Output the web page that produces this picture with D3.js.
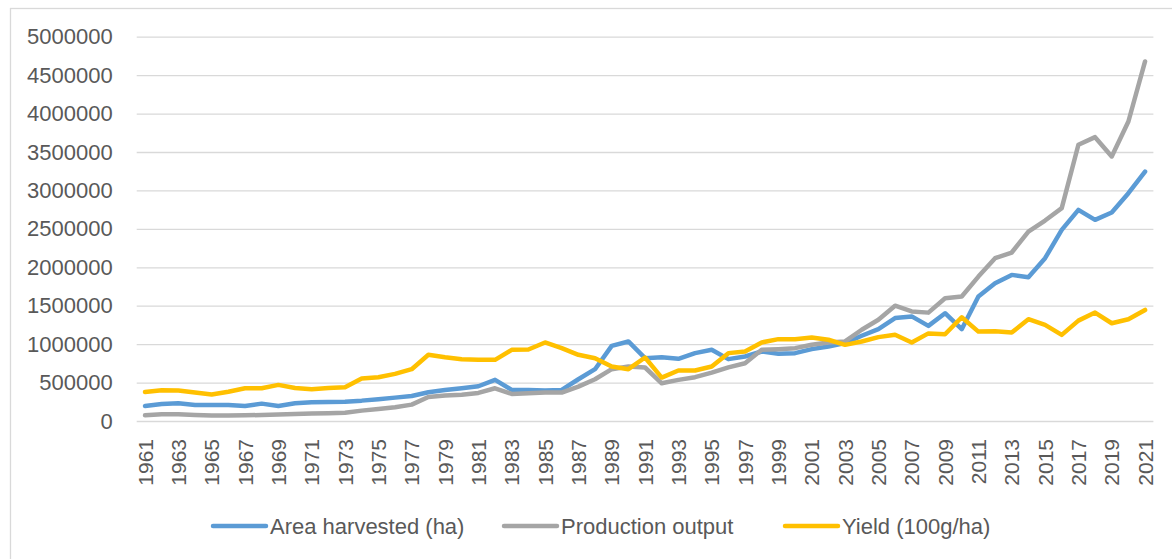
<!DOCTYPE html>
<html>
<head>
<meta charset="utf-8">
<script src="https://cdn.jsdelivr.net/npm/d3@7"></script>
<style>
  body { margin: 0; background: #fff; }
  text { font-family: "Liberation Sans", Arial, sans-serif; fill: #595959; }
</style>
</head>
<body>
<div class="chart"></div>
<script>
// Chart data
var years = d3.range(1961, 2022);

var areaHarvested = [196000, 222000, 230000, 209000, 209000, 209000, 196000, 226000, 196000, 230000,
  243000, 248000, 252000, 265000, 283000, 304000, 326000, 374000, 404000, 426000,
  452000, 535000, 404000, 404000, 396000, 404000, 543000, 674000, 978000, 1035000,
  817000, 830000, 809000, 883000, 926000, 805000, 839000, 904000, 874000, 883000,
  935000, 970000, 1013000, 1109000, 1196000, 1339000, 1361000, 1238000, 1402000, 1194000,
  1619000, 1792000, 1901000, 1871000, 2118000, 2487000, 2747000, 2617000, 2713000, 2964000,
  3246000];

var productionOutput = [74000, 87000, 87000, 78000, 70000, 70000, 74000, 78000, 83000, 91000,
  96000, 100000, 106000, 135000, 157000, 180000, 213000, 313000, 332000, 343000,
  365000, 426000, 352000, 361000, 370000, 370000, 448000, 543000, 674000, 709000,
  696000, 491000, 535000, 570000, 630000, 698000, 752000, 926000, 935000, 948000,
  991000, 1022000, 1035000, 1187000, 1317000, 1500000, 1426000, 1410000, 1597000, 1619000,
  1879000, 2118000, 2192000, 2465000, 2608000, 2769000, 3594000, 3693000, 3442000, 3897000,
  4678000];

var yieldValues = [378000, 400000, 398000, 370000, 344000, 380000, 426000, 426000, 470000, 430000,
  413000, 430000, 440000, 552000, 570000, 613000, 674000, 861000, 830000, 804000,
  796000, 796000, 926000, 930000, 1022000, 948000, 861000, 817000, 709000, 674000,
  826000, 565000, 657000, 657000, 709000, 883000, 904000, 1022000, 1065000, 1065000,
  1087000, 1057000, 991000, 1035000, 1091000, 1122000, 1022000, 1140000, 1128000, 1350000,
  1163000, 1167000, 1150000, 1324000, 1250000, 1120000, 1306000, 1411000, 1272000, 1324000,
  1445000];

var yTicks = d3.range(0, 5000001, 500000);

var seriesNames = ["Area harvested (ha)", "Production output", "Yield (100g/ha)"];
var seriesColors = ["#5B9BD5", "#A5A5A5", "#FFC000"];
var seriesValues = [areaHarvested, productionOutput, yieldValues];

// SVG size and plot area
var svgWidth = 1172;
var svgHeight = 559;
var plot = { left: 136.7, right: 1153.4, top: 36.7, bottom: 421 };

var svg = d3
  .select(".chart")
  .append("svg")
  .attr("width", svgWidth)
  .attr("height", svgHeight);

// Outer chart border
svg.append("rect")
  .attr("x", 10.5)
  .attr("y", 8.5)
  .attr("width", 1200)
  .attr("height", 600)
  .attr("fill", "#fff")
  .attr("stroke", "#d9d9d9")
  .attr("stroke-width", 1.3);

// Scales
var xScale = d3.scaleBand()
  .domain(years)
  .range([plot.left, plot.right])
  .padding(0);

var yScale = d3.scaleLinear()
  .domain([0, 5000000])
  .range([plot.bottom, plot.top]);

function xCenter(year) {
  return xScale(year) + xScale.bandwidth() / 2;
}

// Horizontal gridlines and y labels
var yAxis = d3.axisLeft(yScale)
  .tickValues(yTicks)
  .tickSize(-(plot.right - plot.left))
  .tickPadding(24)
  .tickFormat(d3.format("d"));

var yAxisG = svg.append("g")
  .attr("class", "y-axis")
  .attr("transform", "translate(" + plot.left + ",0)")
  .call(yAxis);

yAxisG.select(".domain").remove();
yAxisG.selectAll(".tick line")
  .attr("stroke", "#d9d9d9")
  .attr("stroke-width", 1.3);
yAxisG.selectAll(".tick text")
  .style("font-size", "22px")
  .style("fill", "#595959")
  .style("font-family", "'Liberation Sans', Arial, sans-serif");

// X axis, every second year labelled
var xAxis = d3.axisBottom(xScale)
  .tickValues(years.filter(function (d, i) { return i % 2 === 0; }))
  .tickSize(0)
  .tickFormat(d3.format("d"));

var xAxisG = svg.append("g")
  .attr("class", "x-axis")
  .attr("transform", "translate(0," + plot.bottom + ")")
  .call(xAxis);

xAxisG.select(".domain").remove();
xAxisG.selectAll(".tick text")
  .attr("transform", "rotate(-90)")
  .attr("text-anchor", "end")
  .attr("x", -18)
  .attr("y", 0)
  .attr("dy", "0.36em")
  .style("font-size", "21px")
  .style("fill", "#595959")
  .style("font-family", "'Liberation Sans', Arial, sans-serif");

// Lines
var line = d3.line()
  .x(function (d, i) { return xCenter(years[i]); })
  .y(function (d) { return yScale(d); });

seriesValues.forEach(function (values, i) {
  svg.append("path")
    .datum(values)
    .attr("fill", "none")
    .attr("stroke", seriesColors[i])
    .attr("stroke-width", 4.5)
    .attr("stroke-linejoin", "round")
    .attr("stroke-linecap", "round")
    .attr("d", line);
});

// Legend
var legendX = [213, 504, 785];
var legendY = 526;

var legend = svg.selectAll(".legend-item")
  .data(seriesNames)
  .enter()
  .append("g")
  .attr("class", "legend-item")
  .attr("transform", function (d, i) { return "translate(" + legendX[i] + "," + legendY + ")"; });

legend.append("line")
  .attr("x1", 0)
  .attr("x2", 53)
  .attr("y1", 0)
  .attr("y2", 0)
  .attr("stroke", function (d, i) { return seriesColors[i]; })
  .attr("stroke-width", 4.5)
  .attr("stroke-linecap", "round");

legend.append("text")
  .attr("x", 57)
  .attr("y", 0)
  .attr("dy", "0.35em")
  .style("font-size", "22px")
  .text(function (d) { return d; });
</script>
</body>
</html>
